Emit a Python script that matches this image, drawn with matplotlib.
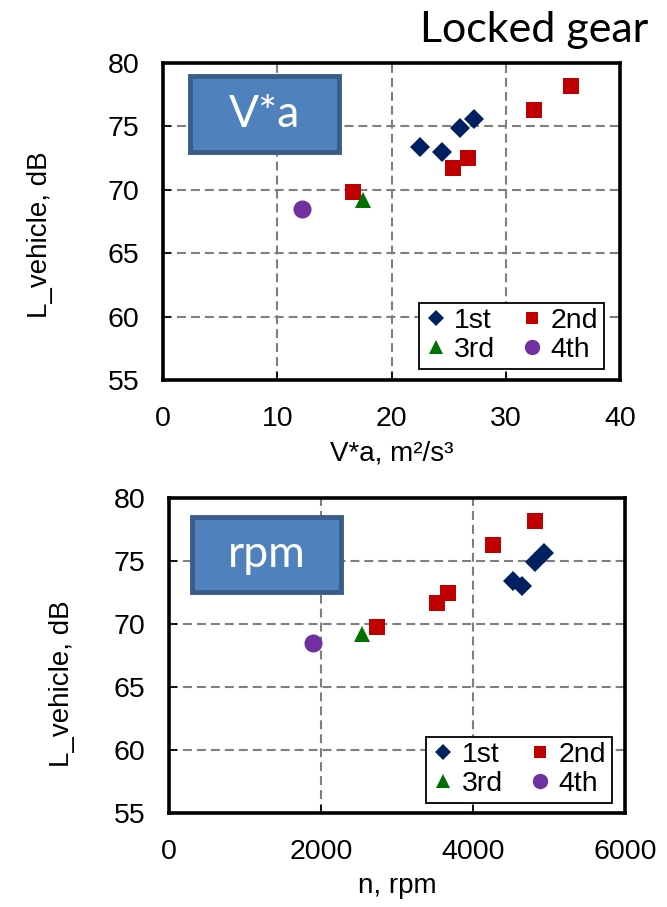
import matplotlib
matplotlib.use("Agg")
import matplotlib.pyplot as plt
from matplotlib.patches import Rectangle

plt.rcParams['font.family'] = ['Liberation Sans', 'DejaVu Sans']

# noise level, dB (shared by both panels)
level_1st = [73.4, 73.0, 74.9, 75.6]
level_2nd = [78.2, 76.3, 72.5, 71.7, 69.8]
level_3rd = [69.2]
level_4th = [68.5]

# V*a, m2/s3
va_1st = [22.5, 24.4, 26.0, 27.2]
va_2nd = [35.7, 32.5, 26.7, 25.4, 16.6]
va_3rd = [17.5]
va_4th = [12.2]

# engine speed, rpm
rpm_1st = [4530, 4640, 4810, 4940]
rpm_2nd = [4810, 4260, 3670, 3530, 2740]
rpm_3rd = [2540]
rpm_4th = [1900]

gears = ['1st', '2nd', '3rd', '4th']
styles = {
    '1st': dict(marker='D', color='#002060', ms=10),
    '2nd': dict(marker='s', color='#C00000', ms=11),
    '3rd': dict(marker='^', color='#007000', ms=11.5),
    '4th': dict(marker='o', color='#7030A0', ms=13),
}

fig = plt.figure(figsize=(6.67, 9.07), dpi=100)
ax1 = fig.add_axes([0.2444, 0.581, 0.6852, 0.3495])
ax2 = fig.add_axes([0.2534, 0.1036, 0.6837, 0.3473])


def draw_panel(ax, xs, xlim, xticks, xlabel, tag, box, leg_anchor, ylab_pos):
    handles = {}
    for g, x, y in zip(gears, xs, [level_1st, level_2nd, level_3rd, level_4th]):
        st = styles[g]
        h, = ax.plot(x, y, linestyle='none', marker=st['marker'], color=st['color'],
                     markersize=st['ms'], markeredgewidth=0, label=g, zorder=3)
        handles[g] = h
    ax.set_xlim(*xlim)
    ax.set_ylim(55, 80)
    ax.set_xticks(xticks)
    ax.set_yticks(range(55, 81, 5))
    ax.grid(True, linestyle=(0, (4.3, 2.4)), color='#7f7f7f', linewidth=1.5)
    ax.set_axisbelow(True)
    for s in ax.spines.values():
        s.set_linewidth(2.6)
    ax.tick_params(direction='in', length=6, width=1.2, labelsize=20.5, pad=17)
    ax.tick_params(axis='x', pad=19)
    ax.set_xlabel(xlabel, fontsize=20)
    ax.set_ylabel('L_vehicle, dB', fontsize=20)
    ax.xaxis.set_label_coords(0.5, -0.19)
    ax.yaxis.set_label_coords(*ylab_pos)

    # label box in the upper left corner
    ax.add_patch(Rectangle((box[0], box[1]), box[2], box[3], transform=ax.transAxes,
                           facecolor='#4F81BD', edgecolor='#385D8A', linewidth=3.5, zorder=4))
    ax.text(box[0] + box[2] / 2, box[1] + box[3] / 2, tag, transform=ax.transAxes,
            ha='center', va='center', color='white', fontsize=32, family='Lato', zorder=5)

    order = ['1st', '3rd', '2nd', '4th']
    leg = ax.legend([handles[g] for g in order], order, ncol=2, loc='lower right',
                    bbox_to_anchor=leg_anchor, borderaxespad=0, fontsize=20.5,
                    frameon=True, fancybox=False, edgecolor='black', framealpha=1,
                    handlelength=0.8, handletextpad=0.25, columnspacing=0.9,
                    labelspacing=0.1, borderpad=0.2, markerscale=0.85)
    leg.get_frame().set_linewidth(1.3)
    leg.set_zorder(6)


draw_panel(ax1, [va_1st, va_2nd, va_3rd, va_4th], (0, 40), [0, 10, 20, 30, 40],
           'V*a, m²/s³', 'V*a', (0.059, 0.719, 0.326, 0.240), (0.965, 0.035), (-0.241, 0.46))
draw_panel(ax2, [rpm_1st, rpm_2nd, rpm_3rd, rpm_4th], (0, 6000), [0, 2000, 4000, 6000],
           'n, rpm', 'rpm', (0.050, 0.702, 0.327, 0.238), (0.971, 0.032), (-0.206, 0.41))

fig.text(0.9715, 0.9537, 'Locked gear', ha='right', va='baseline', fontsize=31, family='Lato')

fig.savefig('out.png', dpi=100)
